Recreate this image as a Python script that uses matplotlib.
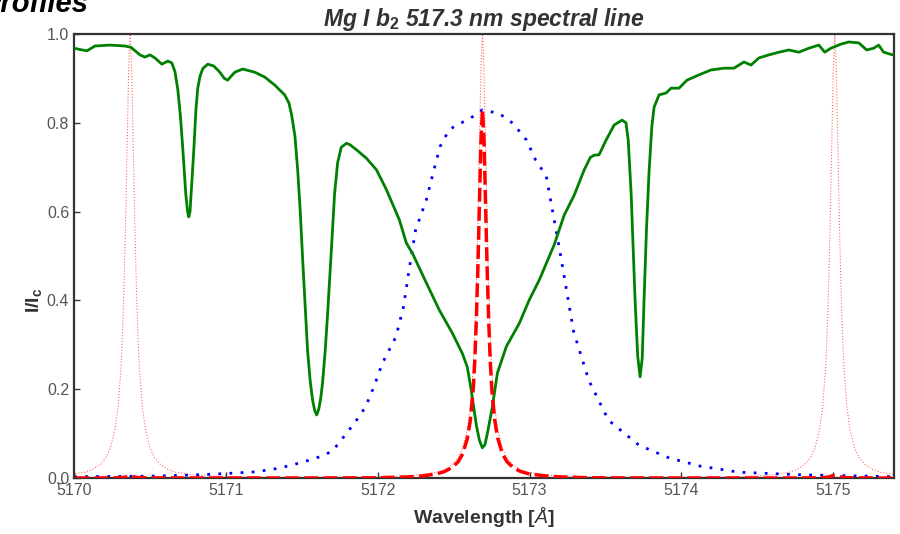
import numpy as np
import matplotlib
matplotlib.use("Agg")
import matplotlib.pyplot as plt

plt.rcParams['font.family'] = ['Liberation Sans', 'DejaVu Sans']
plt.rcParams['mathtext.fontset'] = 'custom'
plt.rcParams['mathtext.rm'] = 'Liberation Sans'
plt.rcParams['mathtext.it'] = 'Liberation Sans:italic'
plt.rcParams['mathtext.bf'] = 'Liberation Sans:bold'

# --- Solar spectrum (green) ---
spec_wl = [5170.000, 5170.040, 5170.085, 5170.138, 5170.237, 5170.335, 5170.375, 5170.410, 5170.434,
           5170.467, 5170.500, 5170.533, 5170.579, 5170.618, 5170.644, 5170.665, 5170.684, 5170.702,
           5170.717, 5170.736, 5170.748, 5170.756, 5170.764, 5170.775, 5170.789, 5170.803, 5170.815,
           5170.830, 5170.848, 5170.881, 5170.920, 5170.960, 5170.990, 5171.012, 5171.035, 5171.059,
           5171.111, 5171.190, 5171.256, 5171.322, 5171.387, 5171.415, 5171.433, 5171.455, 5171.473,
           5171.490, 5171.506, 5171.522, 5171.538, 5171.555, 5171.571, 5171.585, 5171.598, 5171.612,
           5171.625, 5171.637, 5171.655, 5171.670, 5171.684, 5171.696, 5171.716, 5171.736, 5171.760,
           5171.795, 5171.820, 5171.861, 5171.926, 5171.992, 5172.058, 5172.143, 5172.189, 5172.229,
           5172.321, 5172.406, 5172.492, 5172.558, 5172.590, 5172.615, 5172.650, 5172.670, 5172.689,
           5172.706, 5172.722, 5172.755, 5172.788, 5172.847, 5172.932, 5172.998, 5173.064, 5173.162,
           5173.228, 5173.294, 5173.360, 5173.400, 5173.425, 5173.458, 5173.504, 5173.557, 5173.609,
           5173.635, 5173.650, 5173.669, 5173.695, 5173.712, 5173.728, 5173.742, 5173.754, 5173.770,
           5173.787, 5173.805, 5173.820, 5173.853, 5173.899, 5173.932, 5173.984, 5174.037, 5174.116,
           5174.195, 5174.280, 5174.346, 5174.412, 5174.458, 5174.510, 5174.576, 5174.642, 5174.707,
           5174.773, 5174.839, 5174.905, 5174.944, 5174.984, 5175.049, 5175.102, 5175.168, 5175.220,
           5175.266, 5175.299, 5175.332, 5175.391]
spec_int = [0.968, 0.965, 0.962, 0.973, 0.975, 0.973, 0.970, 0.960, 0.953,
            0.948, 0.953, 0.946, 0.932, 0.939, 0.935, 0.915, 0.874, 0.810,
            0.739, 0.640, 0.600, 0.588, 0.600, 0.660, 0.739, 0.830, 0.878,
            0.905, 0.922, 0.932, 0.928, 0.914, 0.900, 0.896, 0.905, 0.914,
            0.921, 0.914, 0.903, 0.885, 0.863, 0.845, 0.818, 0.770, 0.694,
            0.600, 0.491, 0.390, 0.288, 0.220, 0.176, 0.152, 0.142, 0.155,
            0.180, 0.215, 0.290, 0.370, 0.450, 0.520, 0.640, 0.710, 0.745,
            0.754, 0.750, 0.739, 0.720, 0.694, 0.649, 0.581, 0.529, 0.506,
            0.439, 0.378, 0.326, 0.280, 0.250, 0.200, 0.118, 0.085, 0.068,
            0.075, 0.100, 0.160, 0.236, 0.296, 0.348, 0.401, 0.446, 0.525,
            0.592, 0.637, 0.694, 0.722, 0.727, 0.728, 0.761, 0.795, 0.806,
            0.800, 0.760, 0.640, 0.400, 0.275, 0.228, 0.270, 0.401, 0.560,
            0.690, 0.790, 0.835, 0.863, 0.867, 0.878, 0.878, 0.896, 0.908,
            0.919, 0.923, 0.923, 0.937, 0.930, 0.946, 0.953, 0.959, 0.964,
            0.959, 0.968, 0.975, 0.959, 0.968, 0.977, 0.982, 0.980, 0.964,
            0.968, 0.975, 0.959, 0.953]

# --- Prefilter transmission (blue dotted) ---
pref_wl = [5170.0, 5170.5, 5170.8, 5171.0, 5171.2, 5171.35, 5171.5, 5171.62, 5171.7,
           5171.77, 5171.85, 5171.92, 5171.98, 5172.03, 5172.12, 5172.17, 5172.21,
           5172.25, 5172.32, 5172.36, 5172.41, 5172.47, 5172.52, 5172.60, 5172.69,
           5172.80, 5172.89, 5172.98, 5173.04, 5173.11, 5173.20, 5173.29, 5173.39,
           5173.52, 5173.72, 5173.92, 5174.12, 5174.38, 5174.8, 5175.4]
pref_trans = [0.003, 0.004, 0.007, 0.010, 0.014, 0.022, 0.035, 0.048, 0.060,
              0.090, 0.125, 0.160, 0.210, 0.258, 0.318, 0.386, 0.476,
              0.559, 0.626, 0.680, 0.746, 0.784, 0.795, 0.808, 0.829,
              0.821, 0.799, 0.761, 0.716, 0.680, 0.510, 0.330, 0.220,
              0.130, 0.074, 0.045, 0.027, 0.013, 0.007, 0.003]

# --- Fabry-Perot transmission (one period, red thin dotted) ---
fpi_centers = [5170.37, 5172.69, 5175.01]
fpi_offset = [-1.16, -0.9, -0.7, -0.5, -0.4, -0.3, -0.25, -0.2, -0.16, -0.13, -0.1,
              -0.08, -0.06, -0.05, -0.04, -0.03, -0.02, -0.01, 0.0,
              0.01, 0.02, 0.03, 0.04, 0.05, 0.06, 0.08, 0.1, 0.13, 0.16, 0.2,
              0.25, 0.3, 0.4, 0.5, 0.7, 0.9, 1.16]
fpi_trans = [0.0015, 0.0018, 0.0027, 0.005, 0.0075, 0.013, 0.019, 0.030, 0.046, 0.068, 0.11,
             0.16, 0.25, 0.33, 0.44, 0.58, 0.75, 0.92, 1.0,
             0.92, 0.75, 0.58, 0.44, 0.33, 0.25, 0.16, 0.11, 0.068, 0.046, 0.030,
             0.019, 0.013, 0.0075, 0.005, 0.0027, 0.0018, 0.0015]

title = r"Mg I b$_\mathbf{2}$ 517.3 nm spectral line"
xlabel = r"Wavelength [$\AA$]"
ylabel = r"$\mathbf{I/I_c}$"

fig = plt.figure(figsize=(9.0, 5.34), dpi=100)
ax = fig.add_axes([74/900, 1-478/534, (894-74)/900, (478-34)/534])

fpi_x = np.concatenate([c + np.array(fpi_offset) for c in fpi_centers])
fpi_y = np.concatenate([np.array(fpi_trans) for _ in fpi_centers])
combined = fpi_y * np.interp(fpi_x, pref_wl, pref_trans)

ax.plot(spec_wl, spec_int, color='green', lw=2.0, zorder=3,
        solid_joinstyle='round', solid_capstyle='round')
ax.plot(fpi_x, fpi_y, color='red', lw=0.8, ls=':', alpha=0.6, zorder=2)
ax.plot(pref_wl, pref_trans, color='blue', lw=2.0, ls=(0, (1, 3.0)), zorder=2)
ax.plot(fpi_x, combined, color='red', lw=2.5, ls=(0, (4, 1.5)), zorder=4)

ax.set_xlim(5170, 5175.4)
ax.set_ylim(0, 1.0)
ax.set_xticks([5170, 5171, 5172, 5173, 5174, 5175])
ax.set_yticks([0.0, 0.2, 0.4, 0.6, 0.8, 1.0])
ax.set_yticklabels(['0.0', '0.2', '0.4', '0.6', '0.8', '1.0'])
ax.xaxis.set_major_formatter(matplotlib.ticker.FormatStrFormatter('%d'))
ax.tick_params(direction='in', length=4, width=1, colors='#333333',
               labelcolor='#555555', labelsize=11.5)
for s in ax.spines.values():
    s.set_color('#333333')
    s.set_linewidth(1.6)

ax.set_title(title, fontsize=16.5, fontweight='bold', style='italic', color='#333333', pad=6)
ax.set_xlabel(xlabel, fontsize=14, fontweight='bold', color='#333333', labelpad=5)
ax.set_ylabel(ylabel, fontsize=14, color='#333333', style='italic')
ax.yaxis.set_label_coords(-0.037, 0.40)

fig.text(88/900, 1-12/534, "Profiles", fontsize=21, fontweight='bold', style='italic',
         ha='right', va='baseline', color='black')

fig.savefig("out.png", dpi=100, facecolor='white')
